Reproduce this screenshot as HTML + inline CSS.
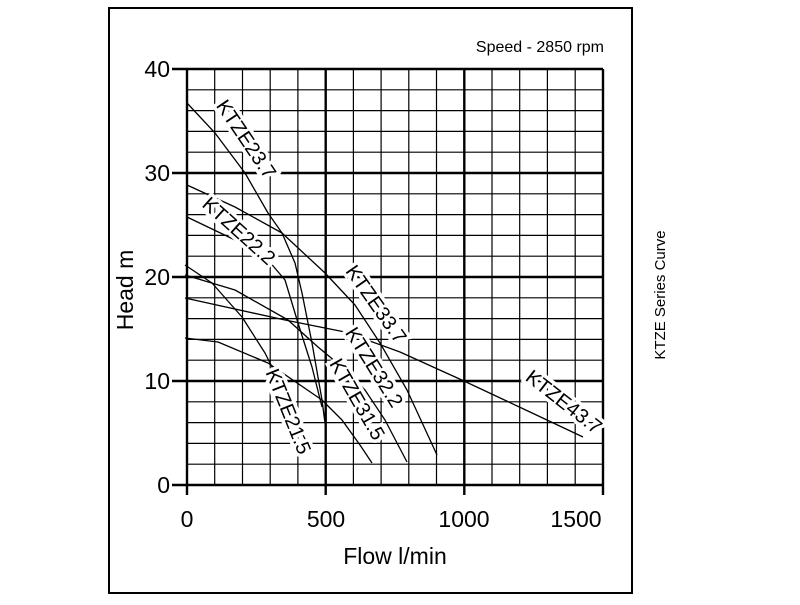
<!DOCTYPE html><html><head><style>body{margin:0;background:#fff}</style></head><body>
<svg width="800" height="600" xmlns="http://www.w3.org/2000/svg" font-family="Liberation Sans, Arial, sans-serif">
<rect x="109" y="8" width="523" height="585" fill="none" stroke="#000" stroke-width="2"/>
<g stroke="#000" stroke-width="1.2">
<line x1="214.7" y1="69" x2="214.7" y2="485"/><line x1="242.5" y1="69" x2="242.5" y2="485"/><line x1="270.2" y1="69" x2="270.2" y2="485"/><line x1="297.9" y1="69" x2="297.9" y2="485"/>
<line x1="353.4" y1="69" x2="353.4" y2="485"/><line x1="381.1" y1="69" x2="381.1" y2="485"/><line x1="408.8" y1="69" x2="408.8" y2="485"/><line x1="436.5" y1="69" x2="436.5" y2="485"/>
<line x1="492" y1="69" x2="492" y2="485"/><line x1="519.7" y1="69" x2="519.7" y2="485"/><line x1="547.4" y1="69" x2="547.4" y2="485"/><line x1="575.2" y1="69" x2="575.2" y2="485"/>
<line x1="187" y1="89.8" x2="603" y2="89.8"/><line x1="187" y1="110.6" x2="603" y2="110.6"/><line x1="187" y1="131.4" x2="603" y2="131.4"/><line x1="187" y1="152.2" x2="603" y2="152.2"/>
<line x1="187" y1="193.8" x2="603" y2="193.8"/><line x1="187" y1="214.6" x2="603" y2="214.6"/><line x1="187" y1="235.4" x2="603" y2="235.4"/><line x1="187" y1="256.2" x2="603" y2="256.2"/>
<line x1="187" y1="297.8" x2="603" y2="297.8"/><line x1="187" y1="318.6" x2="603" y2="318.6"/><line x1="187" y1="339.4" x2="603" y2="339.4"/><line x1="187" y1="360.2" x2="603" y2="360.2"/>
<line x1="187" y1="401.8" x2="603" y2="401.8"/><line x1="187" y1="422.6" x2="603" y2="422.6"/><line x1="187" y1="443.4" x2="603" y2="443.4"/><line x1="187" y1="464.2" x2="603" y2="464.2"/>
</g>
<g stroke="#000" stroke-width="2.4">
<line x1="187" y1="69" x2="187" y2="495"/><line x1="325.7" y1="69" x2="325.7" y2="495"/><line x1="464.3" y1="69" x2="464.3" y2="495"/><line x1="603" y1="69" x2="603" y2="495"/>
<line x1="172" y1="69" x2="603" y2="69"/><line x1="172" y1="173" x2="603" y2="173"/><line x1="172" y1="277" x2="603" y2="277"/><line x1="172" y1="381" x2="603" y2="381"/><line x1="172" y1="485" x2="603" y2="485"/>
</g>
<g fill="none" stroke="#000" stroke-width="1.3" stroke-linejoin="round">
<polyline points="187,103 215,133 245,173 268,213 282,233 295,263 302,293 312,343 322,400 325,423"/>
<polyline points="187,217 235,240 268,260 285,280 298,323 312,367 322,407"/>
<polyline points="187,185 235,207 282,233 325,273 355,305 380,343 407,390 437,455"/>
<polyline points="185,275 235,290 288,320 318,347 342,367 365,390 385,420 407,462"/>
<polyline points="185,338 218,342 268,363 322,400 342,420 360,445 372,463"/>
<polyline points="185,265 212,283 242,317 265,353 285,393 302,433 308,445"/>
<polyline points="185,298 285,320 345,332 400,352 464,381 530,412 583,437"/>
</g>
<g font-size="20" text-anchor="middle" dominant-baseline="middle">
<text transform="translate(245,140) rotate(56)" stroke="#fff" stroke-width="7">KTZE23.7</text><text transform="translate(245,140) rotate(56)">KTZE23.7</text>
<text transform="translate(238,232) rotate(42)" stroke="#fff" stroke-width="7">KTZE22.2</text><text transform="translate(238,232) rotate(42)">KTZE22.2</text>
<text transform="translate(375,305) rotate(55)" stroke="#fff" stroke-width="7">KTZE33.7</text><text transform="translate(375,305) rotate(55)">KTZE33.7</text>
<text transform="translate(373,368) rotate(58)" stroke="#fff" stroke-width="7">KTZE32.2</text><text transform="translate(373,368) rotate(58)">KTZE32.2</text>
<text transform="translate(356,400) rotate(60)" stroke="#fff" stroke-width="7">KTZE31.5</text><text transform="translate(356,400) rotate(60)">KTZE31.5</text>
<text transform="translate(287,412) rotate(68)" stroke="#fff" stroke-width="7">KTZE21.5</text><text transform="translate(287,412) rotate(68)">KTZE21.5</text>
<text transform="translate(563,403) rotate(38)" stroke="#fff" stroke-width="7">KTZE43.7</text><text transform="translate(563,403) rotate(38)">KTZE43.7</text>
</g>
<g font-size="23" text-anchor="end">
<text x="170" y="77">40</text><text x="170" y="181">30</text><text x="170" y="285">20</text><text x="170" y="389">10</text><text x="170" y="493">0</text>
</g>
<g font-size="23" text-anchor="middle">
<text x="187" y="527">0</text><text x="326" y="527">500</text><text x="464" y="527">1000</text><text x="576" y="527">1500</text>
<text x="395" y="564">Flow l/min</text>
<text transform="translate(133,290) rotate(-90)">Head m</text>
</g>
<text x="604" y="52" font-size="16" text-anchor="end">Speed - 2850 rpm</text>
<text transform="translate(665,295) rotate(-90)" font-size="15" text-anchor="middle">KTZE Series Curve</text>
</svg>
</body></html>
